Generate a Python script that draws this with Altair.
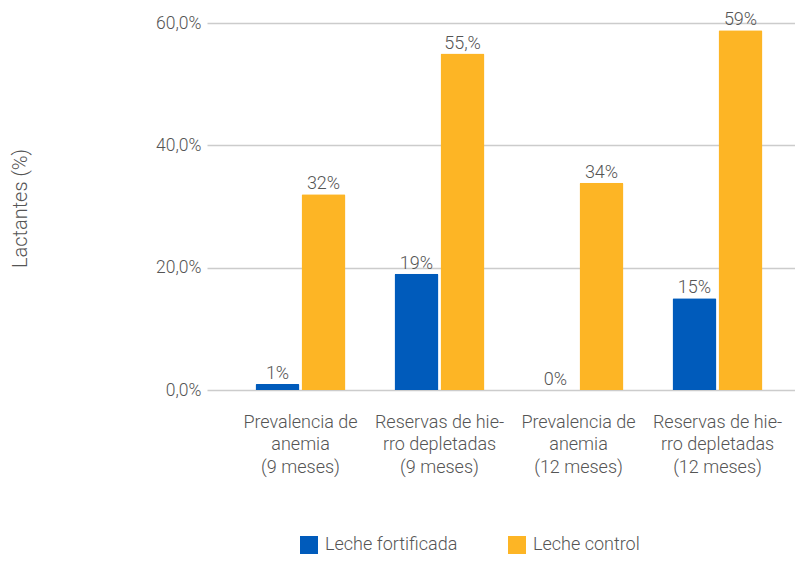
import altair as alt
import pandas as pd

categories = ["Prevalencia de|anemia|(9 meses)",
              "Reservas de hie-|rro depletadas|(9 meses)",
              "Prevalencia de|anemia|(12 meses)",
              "Reservas de hie-|rro depletadas|(12 meses)"]
series = ["Leche fortificada", "Leche control"]
fortificada = [1, 19, 0, 15]
control = [32, 55, 33.9, 58.8]
fortificada_labels = ["1%", "19%", "0%", "15%"]
control_labels = ["32%", "55,%", "34%", "59%"]
colors = ["#005BBB", "#FDB525"]

rows = []
for i, c in enumerate(categories):
    rows.append({"cat": c, "serie": series[0], "val": fortificada[i], "lab": fortificada_labels[i]})
    rows.append({"cat": c, "serie": series[1], "val": control[i], "lab": control_labels[i]})
df = pd.DataFrame(rows)

FONT = "Roboto"
GRAY = "#555555"
FS = 18

x = alt.X("cat:N", sort=categories, title=None,
          scale=alt.Scale(paddingInner=0.3525, paddingOuter=0.2914, align=0.599),
          axis=alt.Axis(labelExpr="split(datum.label, '|')", labelAngle=0,
                        labelFontSize=FS, labelColor=GRAY, labelFont=FONT,
                        labelLineHeight=22.5, labelPadding=23, ticks=False,
                        domain=False, labelBaseline="top"))
xo = alt.XOffset("serie:N", sort=series, scale=alt.Scale(paddingInner=0.044, paddingOuter=0))
y = alt.Y("val:Q", title="Lactantes (%)",
          scale=alt.Scale(domain=[0, 60], nice=False),
          axis=alt.Axis(values=[0, 20, 40, 60], labelExpr="replace(format(datum.value, '.1f'), '.', ',') + '%'",
                        labelFontSize=17.5, labelColor=GRAY, labelFont=FONT, labelPadding=6,
                        ticks=False, domain=False, gridColor="#CCCCCC", gridWidth=1.6,
                        titleFont=FONT, titleFontSize=20, titleColor=GRAY, titleFontWeight=300,
                        titleX=-187, titleY=185, titleAngle=270, titleAlign="center",
                        titleBaseline="middle"))

color = alt.Color("serie:N", sort=series, title=None,
                  scale=alt.Scale(domain=series, range=colors),
                  legend=alt.Legend(orient="none", direction="horizontal", legendX=93, legendY=513,
                                    symbolType="square", symbolSize=324, symbolStrokeWidth=0,
                                    labelFontSize=FS, labelColor=GRAY, labelFont=FONT,
                                    columnPadding=50, labelOffset=7))

bars = alt.Chart(df).mark_bar(cornerRadiusTopLeft=1.5, cornerRadiusTopRight=1.5).encode(
    x=x, xOffset=xo, y=y, color=color)

text = alt.Chart(df).mark_text(baseline="alphabetic", dy=-5, fontSize=FS, color=GRAY, font=FONT).encode(
    x=alt.X("cat:N", sort=categories), xOffset=alt.XOffset("serie:N", sort=series),
    y="val:Q", text="lab:N")

chart = alt.layer(bars, text).properties(
    width=588, height=367,
    autosize=alt.AutoSizeParams(type="none"),
    padding={"left": 199, "top": 15, "right": 0, "bottom": 165},
).configure_view(stroke=None).configure_text(fontWeight=300).configure_axis(labelFontWeight=300).configure_legend(labelFontWeight=300)

chart.save("out.html", embed_options={"renderer": "svg", "actions": False})
